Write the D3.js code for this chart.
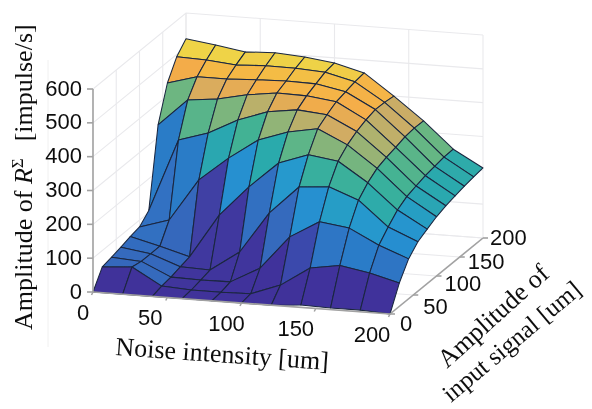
<!DOCTYPE html>
<html><head><meta charset="utf-8">
<script src="https://d3js.org/d3.v7.min.js"></script>
<style>html,body{margin:0;padding:0;background:#fff}svg{display:block}</style></head>
<body><div id="c"></div>
<script>
// Data
const noiseLevels = [0,20,40,60,80,100,120,140,160,180,200];
const amplitudeLevels = [0,20,40,60,80,100,120,140,160,180,200];
const row0  = [0,0,0,0,0,0,0,7,5,5,0];
const row20 = [52,58,8,3,3,5,37,94,108,92,69];
const row40 = [58,52,12,10,11,58,157,208,196,152,118];
const row60 = [65,52,20,17,77,199,282,289,256,183,146];
const row80 = [74,52,27,157,247,324,355,342,285,211,161];
const row100 = [80,107,232,303,363,393,409,368,305,228,175];
const row120 = [106,321,348,393,424,436,428,385,315,237,185];
const row140 = [337,417,426,445,457,455,444,397,322,245,192];
const row160 = [438,463,463,467,470,468,451,405,331,250,198];
const row180 = [493,490,482,486,485,480,458,404,334,255,203];
const row200 = [524,512,498,502,496,485,462,400,333,256,207];
const rows = [row0,row20,row40,row60,row80,row100,row120,row140,row160,row180,row200];
const xTicks = [0,50,100,150,200];
const yTicks = [0,50,100,150,200];
const zTicks = [0,100,200,300,400,500,600];
const colorStops = [0,22,37,52,100,150,200,232,255,300,334,385,410,440,465,485,525];
const colorValues = ["#41309a","#413aa0","#3a48ac","#3568bc","#2c78c6","#258ed0","#2599cd","#2ba7b0","#2dabaa","#3fb296","#69b682","#afb26e","#d2ac64","#f5ac48","#f5b945","#eed246","#f2dc48"];

const W=592,H=409,ox=93,oy=292;
const xPx=d3.scaleLinear([0,200],[0,297]), xPy=d3.scaleLinear([0,200],[0,22]);
const yPx=d3.scaleLinear([0,200],[0,93]),  yPy=d3.scaleLinear([0,200],[0,-76]);
const zPy=d3.scaleLinear([0,600],[0,-203]);
const P=(x,y,z)=>[ox+xPx(x)+yPx(y), oy+xPy(x)+yPy(y)+zPy(z)];
const color=d3.scaleLinear(colorStops,colorValues).clamp(true);
const line=d3.line();
const svg=d3.select("#c").append("svg").attr("width",W).attr("height",H).attr("viewBox",[0,0,W,H]);
const defs=svg.append("defs");
defs.append("filter").attr("id","soft").append("feGaussianBlur").attr("stdDeviation",0.45);

// stray scan line of the picture
svg.append("line").attr("x1",48).attr("x2",48).attr("y1",60).attr("y2",347).attr("stroke","#f0f0f0");

// walls
const grid=svg.append("g").attr("fill","none").attr("stroke","#e9e9ec").attr("stroke-width",1.1);
zTicks.forEach(z=>{
  grid.append("path").attr("d",line([P(0,0,z),P(0,200,z),P(200,200,z)]));
});
yTicks.forEach(y=>{
  grid.append("path").attr("d",line([P(0,y,0),P(0,y,600)]));
  grid.append("path").attr("d",line([P(0,y,0),P(200,y,0)]));
});
xTicks.forEach(x=>{
  grid.append("path").attr("d",line([P(x,200,0),P(x,200,600)]));
  grid.append("path").attr("d",line([P(x,0,0),P(x,200,0)]));
});

// surface, back to front
const surf=svg.append("g").attr("filter","url(#soft)");
for(let j=rows.length-2;j>=0;j--){
  for(let i=0;i<noiseLevels.length-1;i++){
    const q=[[i,j],[i+1,j],[i+1,j+1],[i,j+1]].map(([a,b])=>P(noiseLevels[a],amplitudeLevels[b],rows[b][a]));
    surf.append("path").attr("d",line(q)+"Z")
      .attr("fill",color(rows[j][i]))
      .attr("stroke","#1a2740").attr("stroke-width",1.05).attr("stroke-linejoin","round");
  }
}

// axes
const axis=svg.append("g").attr("fill","none").attr("stroke","#a2a2a2").attr("stroke-width",1.6);
axis.append("path").attr("d",line([P(0,0,0),P(0,0,600)]));
axis.append("path").attr("d",line([P(0,0,0),P(200,0,0)]));
axis.append("path").attr("d",line([P(200,0,0),P(200,200,0)]));
zTicks.forEach(z=>{const p=P(0,0,z);axis.append("path").attr("d",line([[p[0]-6,p[1]],p]))});
xTicks.forEach(x=>{const p=P(x,0,0);axis.append("path").attr("d",line([p,[p[0]-1.5,p[1]+3]]))});
yTicks.forEach(y=>{const p=P(200,y,0);axis.append("path").attr("d",line([p,[p[0]+5,p[1]]]))});

// tick labels
const tl=svg.append("g").attr("font-family","'Liberation Sans',Arial,sans-serif").attr("font-size",22).attr("fill","#111").attr("filter","url(#soft)");
tl.selectAll(".z").data(zTicks).join("text").attr("text-anchor","end").attr("dominant-baseline","central")
  .attr("x",82).attr("y",d=>P(0,0,d)[1]-1).text(d=>d);
const xNudge=[6,-1,1,-4,-2];
tl.selectAll(".x").data(xTicks).join("text").attr("text-anchor","middle").attr("dominant-baseline","central")
  .attr("x",(d,i)=>P(d,0,0)[0]-16+xNudge[i]).attr("y",d=>P(d,0,0)[1]+20).text(d=>d);
const yNudge=[[10,9],[10,11],[8,7],[8,4],[7,-1]];
tl.selectAll(".y").data(yTicks).join("text").attr("dominant-baseline","central")
  .attr("x",(d,i)=>P(200,d,0)[0]+yNudge[i][0]).attr("y",(d,i)=>P(200,d,0)[1]+yNudge[i][1]).text(d=>d);

// axis titles
const tt=svg.append("g").attr("font-family","'Liberation Serif','Times New Roman',serif").attr("font-size",26).attr("fill","#111").attr("filter","url(#soft)");
tt.append("text").attr("transform","translate(115,355) rotate(4)").text("Noise intensity [um]");
const zl=tt.append("text").attr("transform","translate(32,330) rotate(-90)");
zl.append("tspan").text("Amplitude of ");
zl.append("tspan").attr("font-style","italic").text("R");
zl.append("tspan").attr("dy",-9).attr("font-size",17).text("Σ");
zl.append("tspan").attr("dy",9).attr("dx",17).text("[impulse/s]");
tt.append("text").attr("transform","translate(447,369) rotate(-42)").text("Amplitude of");
tt.append("text").attr("transform","translate(451,403) rotate(-40)").attr("font-size",25).text("input signal [um]");
</script></body></html>
